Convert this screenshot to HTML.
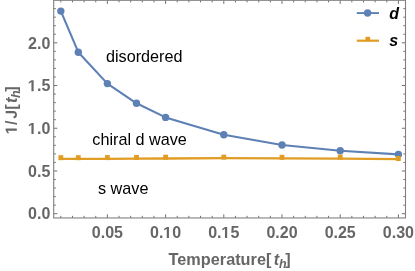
<!DOCTYPE html>
<html><head><meta charset="utf-8"><style>
html,body{margin:0;padding:0;background:#fff;}
svg{display:block;will-change:transform;font-family:"Liberation Sans",sans-serif;}
</style></head><body>
<svg width="415" height="271" viewBox="0 0 415 271">
<rect width="415" height="271" fill="#fff"/>
<path d="M60.84 217.95v-2.1M60.84 0.3v2.1M72.48 217.95v-2.1M72.48 0.3v2.1M84.12 217.95v-2.1M84.12 0.3v2.1M95.76 217.95v-2.1M95.76 0.3v2.1M107.40 217.95v-3.6M107.40 0.3v3.6M119.04 217.95v-2.1M119.04 0.3v2.1M130.68 217.95v-2.1M130.68 0.3v2.1M142.32 217.95v-2.1M142.32 0.3v2.1M153.96 217.95v-2.1M153.96 0.3v2.1M165.60 217.95v-3.6M165.60 0.3v3.6M177.24 217.95v-2.1M177.24 0.3v2.1M188.88 217.95v-2.1M188.88 0.3v2.1M200.52 217.95v-2.1M200.52 0.3v2.1M212.16 217.95v-2.1M212.16 0.3v2.1M223.80 217.95v-3.6M223.80 0.3v3.6M235.44 217.95v-2.1M235.44 0.3v2.1M247.08 217.95v-2.1M247.08 0.3v2.1M258.72 217.95v-2.1M258.72 0.3v2.1M270.36 217.95v-2.1M270.36 0.3v2.1M282.00 217.95v-3.6M282.00 0.3v3.6M293.64 217.95v-2.1M293.64 0.3v2.1M305.28 217.95v-2.1M305.28 0.3v2.1M316.92 217.95v-2.1M316.92 0.3v2.1M328.56 217.95v-2.1M328.56 0.3v2.1M340.20 217.95v-3.6M340.20 0.3v3.6M351.84 217.95v-2.1M351.84 0.3v2.1M363.48 217.95v-2.1M363.48 0.3v2.1M375.12 217.95v-2.1M375.12 0.3v2.1M386.76 217.95v-2.1M386.76 0.3v2.1M398.40 217.95v-3.6M398.40 0.3v3.6M53.7 213.70h3.6M405.5 213.70h-3.6M53.7 205.16h2.1M405.5 205.16h-2.1M53.7 196.61h2.1M405.5 196.61h-2.1M53.7 188.06h2.1M405.5 188.06h-2.1M53.7 179.52h2.1M405.5 179.52h-2.1M53.7 170.97h3.6M405.5 170.97h-3.6M53.7 162.43h2.1M405.5 162.43h-2.1M53.7 153.88h2.1M405.5 153.88h-2.1M53.7 145.34h2.1M405.5 145.34h-2.1M53.7 136.79h2.1M405.5 136.79h-2.1M53.7 128.25h3.6M405.5 128.25h-3.6M53.7 119.70h2.1M405.5 119.70h-2.1M53.7 111.16h2.1M405.5 111.16h-2.1M53.7 102.61h2.1M405.5 102.61h-2.1M53.7 94.07h2.1M405.5 94.07h-2.1M53.7 85.52h3.6M405.5 85.52h-3.6M53.7 76.98h2.1M405.5 76.98h-2.1M53.7 68.43h2.1M405.5 68.43h-2.1M53.7 59.89h2.1M405.5 59.89h-2.1M53.7 51.34h2.1M405.5 51.34h-2.1M53.7 42.80h3.6M405.5 42.80h-3.6M53.7 34.25h2.1M405.5 34.25h-2.1M53.7 25.71h2.1M405.5 25.71h-2.1M53.7 17.16h2.1M405.5 17.16h-2.1M53.7 8.62h2.1M405.5 8.62h-2.1" stroke="#606060" stroke-width="0.9" fill="none"/>
<rect x="53.7" y="0.3" width="351.8" height="217.64999999999998" fill="none" stroke="#808080" stroke-width="1.1"/>
<polyline points="60.84,11.1 78.30,52.2 107.40,83.6 136.50,103.3 165.60,117.4 223.80,134.7 282.00,144.95 340.20,150.7 398.40,154.4" fill="none" stroke="#5e81b5" stroke-width="2.1" stroke-linejoin="round"/>
<circle cx="60.84" cy="11.1" r="3.7" fill="#5e81b5"/>
<circle cx="78.30" cy="52.2" r="3.7" fill="#5e81b5"/>
<circle cx="107.40" cy="83.6" r="3.7" fill="#5e81b5"/>
<circle cx="136.50" cy="103.3" r="3.7" fill="#5e81b5"/>
<circle cx="165.60" cy="117.4" r="3.7" fill="#5e81b5"/>
<circle cx="223.80" cy="134.7" r="3.7" fill="#5e81b5"/>
<circle cx="282.00" cy="144.95" r="3.7" fill="#5e81b5"/>
<circle cx="340.20" cy="150.7" r="3.7" fill="#5e81b5"/>
<circle cx="398.40" cy="154.4" r="3.7" fill="#5e81b5"/>
<polyline points="59.64,158.9 60.84,158.9 78.30,158.85 107.40,158.8 136.50,158.7 165.60,158.5 223.80,158.2 282.00,158.4 340.20,158.7 398.40,159.2 399.60,159.2" fill="none" stroke="#e19c24" stroke-width="2.3" stroke-linejoin="round"/>
<rect x="58.44" y="155.2" width="4.8" height="5.0" fill="#e19c24"/>
<rect x="75.90" y="155.2" width="4.8" height="5.0" fill="#e19c24"/>
<rect x="105.00" y="155.1" width="4.8" height="5.0" fill="#e19c24"/>
<rect x="134.10" y="155.0" width="4.8" height="5.0" fill="#e19c24"/>
<rect x="163.20" y="154.7" width="4.8" height="5.0" fill="#e19c24"/>
<rect x="221.40" y="154.65" width="4.8" height="5.0" fill="#e19c24"/>
<rect x="279.60" y="154.8" width="4.8" height="5.0" fill="#e19c24"/>
<rect x="337.80" y="154.6" width="4.8" height="5.0" fill="#e19c24"/>
<rect x="396.00" y="156.0" width="4.8" height="5.0" fill="#e19c24"/>
<line x1="356.8" y1="13.05" x2="379" y2="13.05" stroke="#5e81b5" stroke-width="1.9"/><circle cx="367.6" cy="12.95" r="3.7" fill="#5e81b5"/>
<line x1="356.8" y1="40.7" x2="379" y2="40.7" stroke="#e19c24" stroke-width="2.2"/><rect x="365.45" y="36.8" width="4.7" height="4.7" fill="#e19c24"/>
<text x="389.3" y="18.8" font-size="16" font-weight="bold" font-style="italic" fill="#000">d</text>
<text x="389.3" y="46.2" font-size="16" font-weight="bold" font-style="italic" fill="#000">s</text>
<text x="50.3" y="219.40" text-anchor="end" font-size="16" font-weight="bold" fill="#666">0.0</text>
<text x="50.3" y="176.67" text-anchor="end" font-size="16" font-weight="bold" fill="#666">0.5</text>
<path transform="translate(28.06,133.95) scale(0.007812,-0.007812)" d="M433 0V1170L95 959V1180L448 1409H714V0Z" fill="#666"/>
<text x="50.3" y="133.95" text-anchor="end" font-size="16" font-weight="bold" fill="#666">.0</text>
<path transform="translate(28.06,91.22) scale(0.007812,-0.007812)" d="M433 0V1170L95 959V1180L448 1409H714V0Z" fill="#666"/>
<text x="50.3" y="91.22" text-anchor="end" font-size="16" font-weight="bold" fill="#666">.5</text>
<text x="50.3" y="48.50" text-anchor="end" font-size="16" font-weight="bold" fill="#666">2.0</text>
<text x="107.40" y="238" text-anchor="middle" font-size="16" font-weight="bold" fill="#666">0.05</text>
<text x="150.03" y="238" font-size="16" font-weight="bold" fill="#666">0.</text>
<path transform="translate(163.38,238.00) scale(0.007812,-0.007812)" d="M433 0V1170L95 959V1180L448 1409H714V0Z" fill="#666"/>
<text x="181.17" y="238" text-anchor="end" font-size="16" font-weight="bold" fill="#666">0</text>
<text x="208.23" y="238" font-size="16" font-weight="bold" fill="#666">0.</text>
<path transform="translate(221.58,238.00) scale(0.007812,-0.007812)" d="M433 0V1170L95 959V1180L448 1409H714V0Z" fill="#666"/>
<text x="239.37" y="238" text-anchor="end" font-size="16" font-weight="bold" fill="#666">5</text>
<text x="282.00" y="238" text-anchor="middle" font-size="16" font-weight="bold" fill="#666">0.20</text>
<text x="340.20" y="238" text-anchor="middle" font-size="16" font-weight="bold" fill="#666">0.25</text>
<text x="398.40" y="238" text-anchor="middle" font-size="16" font-weight="bold" fill="#666">0.30</text>
<text x="106" y="61.7" font-size="16.2" fill="#000">disordered</text>
<text x="92.3" y="144.7" font-size="16.2" fill="#000">chiral d wave</text>
<text x="98" y="194.0" font-size="16.2" fill="#000">s wave</text>
<g transform="translate(168.6,264.6)" font-size="16.2" font-weight="bold" fill="#666"><text x="0" y="0" font-size="16.28">Temperature[</text><text x="105.2" y="0" font-style="italic">t</text><text x="110.4" y="3" font-style="italic" font-size="12.5">h</text><text x="116.6" y="0">]</text></g>
<g transform="translate(16.8,134.1) rotate(-90)" font-size="16.2" font-weight="bold" fill="#666"><path transform="translate(0.00,0.00) scale(0.007910,-0.007910)" d="M433 0V1170L95 959V1180L448 1409H714V0Z" fill="#666"/><text x="9.0" y="0">/</text><path transform="translate(15.30,0.00) scale(0.007910,-0.007910)" d="M524 -20Q305 -20 187.5 75Q70 170 31 382L324 425Q342 316 391 263.5Q440 211 526 211Q614 211 659.5 270Q705 329 705 439V1409H999V446Q999 226 874 103Q749 -20 524 -20Z" fill="#666"/><text x="24.3" y="0">[</text><text x="31.2" y="0" font-style="italic">t</text><text x="36.1" y="3" font-style="italic" font-size="12.5">h</text><text x="42.3" y="0">]</text></g>
</svg>
</body></html>
